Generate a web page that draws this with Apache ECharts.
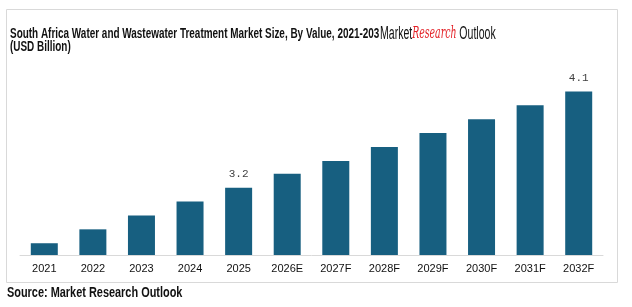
<!DOCTYPE html>
<html>
<head>
<meta charset="utf-8">
<script src="https://cdn.jsdelivr.net/npm/echarts@6/dist/echarts.min.js"></script>
<style>
	html,body{margin:0;padding:0;background:#fff;}
	#main{width:632px;height:307px;}
</style>
</head>
<body>
<div id="main"></div>
<script type="text/javascript">
	var years = ['2021','2022','2023','2024','2025','2026E','2027F','2028F','2029F','2030F','2031F','2032F'];
	var values = [2.68,2.81,2.94,3.07,3.2,3.33,3.45,3.58,3.71,3.84,3.97,4.1];
	var shown = ['2025','2032F'];//只显示这两个数值

	var sans = '"Liberation Sans",Arial,sans-serif';

	var data = values.map(function(v,i){
		return {value:v,label:{show:shown.indexOf(years[i])>=0}};
	});

	var myChart = echarts.init(document.getElementById('main'));
	var option = {
		animation:false,
		grid:{left:20,right:29,top:70,bottom:52},
		xAxis:{
			type:'category',
			data:years,
			axisLine:{lineStyle:{color:'#d9d9d9',width:1}},
			axisTick:{show:false},
			axisLabel:{color:'#111',fontSize:11,fontFamily:sans,margin:8}
		},
		yAxis:{
			type:'value',
			min:2.57,
			max:4.3,
			show:false,
			splitLine:{show:false}
		},
		series:[{
			type:'bar',
			data:data,
			barWidth:27,
			itemStyle:{color:'#175f80'},
			label:{position:'top',distance:8,color:'#404040',fontSize:11,fontFamily:'"Liberation Mono","Courier New",monospace'}
		}],
		graphic:[
			{type:'rect',shape:{x:6.5,y:9.5,width:611,height:273},style:{fill:'none',stroke:'#d9d9d9',lineWidth:1},silent:true},
			//标题 - 窄字体用scaleX模拟
			{type:'text',x:10,y:28,scaleX:0.71,originX:0,originY:0,style:{
				text:'South Africa Water and Wastewater Treatment Market Size, By Value, 2021-203\n(USD Billion)',
				fontFamily:sans,fontWeight:'bold',fontSize:14,lineHeight:12.5,fill:'#111',verticalAlign:'top'
			}},
			//logo
			{type:'text',x:380,y:25,scaleX:0.585,originX:0,originY:0,style:{
				text:'{a|Market}{b|Research}{a| Outlook}',
				verticalAlign:'top',
				rich:{
					a:{fontFamily:sans,fontSize:18,fill:'#111'},
					b:{fontFamily:'"DejaVu Serif",serif',fontStyle:'italic',fontSize:16,fill:'#e31e24'}
				}
			}},
			{type:'text',x:7,y:286,scaleX:0.78,originX:0,originY:0,style:{
				text:'Source: Market Research Outlook',fontFamily:sans,fontWeight:'bold',fontSize:14,fill:'#111',verticalAlign:'top'
			}}
		]
	};
	myChart.setOption(option);
</script>
</body>
</html>
